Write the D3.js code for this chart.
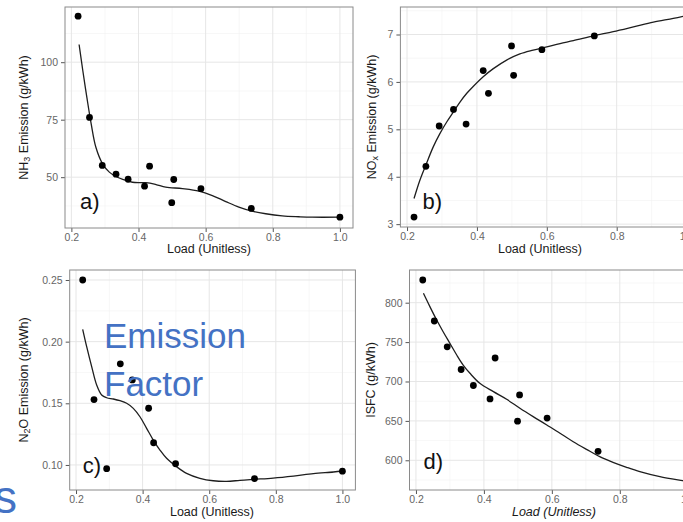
<!DOCTYPE html>
<html><head><meta charset="utf-8">
<script src="https://cdn.jsdelivr.net/npm/d3@7"></script>
<style>
html,body{margin:0;padding:0;background:#fff;}
svg{display:block;font-family:"Liberation Sans",Arial,Helvetica,sans-serif;}
</style></head>
<body>
<svg id="chart" width="683" height="522"></svg>
<script>
// ---------- data ----------
const load = [0.22, 0.254, 0.292, 0.333, 0.369, 0.418, 0.433, 0.499, 0.505, 0.586, 0.736, 1.0];
const nh3  = [120, 76, 55.1, 51.3, 49.1, 46.1, 54.8, 38.9, 49.0, 45.0, 36.4, 32.6];
const nox  = [3.15, 4.22, 5.07, 5.42, 5.11, 6.24, 5.76, 6.76, 6.14, 6.68, 6.97, 7.37];
const n2o  = [0.25, 0.153, 0.097, 0.182, 0.169, 0.146, 0.118, 0.101, null, null, 0.089, 0.095];
const isfc = [828.8, 776.8, 744, 715.2, 694.9, 677.9, 729.8, 649.6, 682.9, 653.6, 611.4, 575];

// smooth (loess) fits
const nh3FitLoad = [0.223,0.234,0.246,0.259,0.273,0.293,0.313,0.333,0.353,0.382,0.422,0.452,0.481,0.531,0.580,0.620,0.660,0.699,0.739,0.779,0.828,0.878,0.917,1.0];
const nh3Fit     = [107.7,96.4,84.8,73.2,63.0,55.8,52.2,50.3,49.0,47.8,47.6,46.8,45.7,45.0,43.9,42.0,39.4,37.0,35.2,34.1,33.2,32.8,32.6,32.6];
const noxFitLoad = [0.220,0.237,0.254,0.275,0.294,0.314,0.333,0.352,0.371,0.390,0.418,0.447,0.485,0.523,0.561,0.600,0.638,0.676,0.733,0.790,0.848,0.905,0.962,1.0];
const noxFit     = [3.54,3.93,4.25,4.63,4.91,5.16,5.37,5.58,5.76,5.91,6.11,6.28,6.46,6.59,6.67,6.74,6.81,6.87,6.97,7.06,7.16,7.26,7.34,7.40];
const n2oFitLoad = [0.220,0.232,0.247,0.262,0.277,0.292,0.312,0.332,0.352,0.372,0.392,0.412,0.432,0.452,0.472,0.502,0.532,0.572,0.612,0.652,0.692,0.732,0.792,0.853,0.913,0.973,1.0];
const n2oFit     = [0.2100,0.1959,0.1797,0.1648,0.1567,0.1545,0.1535,0.1521,0.1500,0.1459,0.1391,0.1297,0.1202,0.1121,0.1054,0.0986,0.0932,0.0892,0.0872,0.0867,0.0875,0.0883,0.0894,0.0910,0.0929,0.0943,0.0951];
const isfcFitLoad = [0.222,0.241,0.261,0.280,0.300,0.320,0.339,0.359,0.388,0.428,0.467,0.506,0.545,0.584,0.624,0.663,0.702,0.741,0.780,0.820,0.859,0.918,0.985,1.0];
const isfcFit     = [811.9,795.0,778.0,763.2,748.4,733.6,720.9,710.4,697.7,687.1,677.4,666.0,655.4,645.2,634.3,623.6,613.9,604.6,597.4,591.1,585.6,579.2,574.1,573.0];

// tick labels
const xTicks = [0.2, 0.4, 0.6, 0.8, 1.0];
const xMinor = [0.3, 0.5, 0.7, 0.9];
const nh3Ticks = [50, 75, 100];
const nh3Minor = [37.5, 62.5, 87.5, 112.5];
const noxTicks = [3, 4, 5, 6, 7];
const noxMinor = [3.5, 4.5, 5.5, 6.5, 7.5];
const n2oTicks = [0.10, 0.15, 0.20, 0.25];
const n2oMinor = [0.125, 0.175, 0.225];
const isfcTicks = [600, 650, 700, 750, 800];
const isfcMinor = [575, 625, 675, 725, 775, 825];

const panelTags = ["a)", "b)", "c)", "d)"];
const overlayLines = ["Emission", "Factor"];

// ---------- layout ----------
const svg = d3.select("#chart");
const panels = [
  {tag: panelTags[0], y: nh3, fx: nh3FitLoad, fy: nh3Fit, ticks: nh3Ticks, minor: nh3Minor, fmt: d3.format("d"),
   xr: [65, 353], yr: [228, 7], xd: [0.181, 1.039], yd: [27.9, 124.0],
   title: [["NH"], ["3", "sub"], [" Emission (g/kWh)"]], titleX: 28, xTitleX: 209, xTitleY: 253, italicX: false,
   tagDx: 15, tagDy: 19},
  {tag: panelTags[1], y: nox, fx: noxFitLoad, fy: noxFit, ticks: noxTicks, minor: noxMinor, fmt: d3.format("d"),
   xr: [400.4, 700.2], yr: [227, 7], xd: [0.181, 1.039], yd: [2.94, 7.58],
   title: [["NO"], ["x", "sub"], [" Emission (g/kWh)"]], titleX: 376, xTitleX: 540, xTitleY: 253, italicX: false,
   tagDx: 22, tagDy: 18},
  {tag: panelTags[2], y: n2o, fx: n2oFitLoad, fy: n2oFit, ticks: n2oTicks, minor: n2oMinor, fmt: d3.format(".2f"),
   xr: [69.7, 355.4], yr: [490, 270], xd: [0.181, 1.039], yd: [0.0797, 0.2581],
   title: [["N"], ["2", "sub"], ["O Emission (g/kWh)"]], titleX: 28, xTitleX: 212, xTitleY: 516, italicX: false,
   tagDx: 13, tagDy: 17},
  {tag: panelTags[3], y: isfc, fx: isfcFitLoad, fy: isfcFit, ticks: isfcTicks, minor: isfcMinor, fmt: d3.format("d"),
   xr: [409.5, 701], yr: [490, 270], xd: [0.181, 1.039], yd: [562.3, 841.5],
   title: [["ISFC (g/kWh)"]], titleX: 375, xTitleX: 554, xTitleY: 516, italicX: true,
   tagDx: 14, tagDy: 21}
];

panels.forEach(p => {
  const x = d3.scaleLinear().domain(p.xd).range(p.xr);
  const y = d3.scaleLinear().domain(p.yd).range(p.yr);
  const g = svg.append("g");
  const [x0, x1] = p.xr, [y1, y0] = p.yr;

  // minor grid
  g.selectAll(".mx").data(xMinor).join("line")
    .attr("x1", d => x(d)).attr("x2", d => x(d)).attr("y1", y0).attr("y2", y1)
    .attr("stroke", "#f2f2f2").attr("stroke-width", 0.6);
  g.selectAll(".my").data(p.minor).join("line")
    .attr("x1", x0).attr("x2", x1).attr("y1", d => y(d)).attr("y2", d => y(d))
    .attr("stroke", "#f2f2f2").attr("stroke-width", 0.6);
  // major grid
  g.selectAll(".gx").data(xTicks).join("line")
    .attr("x1", d => x(d)).attr("x2", d => x(d)).attr("y1", y0).attr("y2", y1)
    .attr("stroke", "#e6e6e6").attr("stroke-width", 1);
  g.selectAll(".gy").data(p.ticks).join("line")
    .attr("x1", x0).attr("x2", x1).attr("y1", d => y(d)).attr("y2", d => y(d))
    .attr("stroke", "#e6e6e6").attr("stroke-width", 1);

  // axes
  const xa = g.append("g").attr("transform", `translate(0,${y1})`)
    .call(d3.axisBottom(x).tickValues(xTicks).tickFormat(d3.format(".1f")).tickSize(4).tickPadding(2));
  const ya = g.append("g").attr("transform", `translate(${x0},0)`)
    .call(d3.axisLeft(y).tickValues(p.ticks).tickFormat(p.fmt).tickSize(4).tickPadding(3));
  [xa, ya].forEach(a => {
    a.select(".domain").remove();
    a.selectAll(".tick line").attr("stroke", "#555").attr("stroke-width", 1);
    a.selectAll(".tick text").attr("fill", "#666").style("font-size", "10.5px")
      .style("font-family", '"Liberation Sans",Arial,sans-serif');
  });

  // panel border
  g.append("rect").attr("x", x0).attr("y", y0).attr("width", x1 - x0).attr("height", y1 - y0)
    .attr("fill", "none").attr("stroke", "#8a8a8a").attr("stroke-width", 1);

  // fit line
  const fit = p.fx.map((v, i) => [v, p.fy[i]]);
  g.append("path").datum(fit)
    .attr("d", d3.line().x(d => x(d[0])).y(d => y(d[1])).curve(d3.curveCatmullRom))
    .attr("fill", "none").attr("stroke", "#1e1e1e").attr("stroke-width", 1.3);

  // points
  const pts = load.map((v, i) => [v, p.y[i]]).filter(d => d[1] != null);
  g.selectAll(".pt").data(pts).join("circle")
    .attr("cx", d => x(d[0])).attr("cy", d => y(d[1])).attr("r", 3.4).attr("fill", "#000");

  // x title
  g.append("text").attr("x", p.xTitleX)
    .attr("y", p.xTitleY).attr("text-anchor", "middle")
    .style("font-size", "12.5px").style("font-style", p.italicX ? "italic" : "normal")
    .attr("fill", "#1a1a1a").text("Load (Unitless)");

  // y title
  const yt = g.append("text").attr("transform", `translate(${p.titleX},${(y0 + y1) / 2}) rotate(-90)`)
    .attr("text-anchor", "middle").style("font-size", "12.5px").attr("fill", "#1a1a1a");
  p.title.forEach(([t, kind]) => {
    const ts = yt.append("tspan").text(t);
    if (kind === "sub") ts.attr("baseline-shift", "-25%").style("font-size", "9px");
  });

  // panel tag
  g.append("text").attr("x", x0 + p.tagDx).attr("y", y1 - p.tagDy)
    .style("font-size", "22px").attr("fill", "#111").text(p.tag);
});

// overlay text from the slide
const ov = svg.append("g");
ov.selectAll("text").data(overlayLines).join("text")
  .attr("x", 104).attr("y", (d, i) => 348 + i * 48)
  .style("font-size", "35px").attr("fill", "#4472C4").text(d => d);
ov.append("text").attr("x", 17).attr("y", 513).attr("text-anchor", "end")
  .style("font-size", "46px").attr("fill", "#4472C4").text("s");
</script>
</body></html>
